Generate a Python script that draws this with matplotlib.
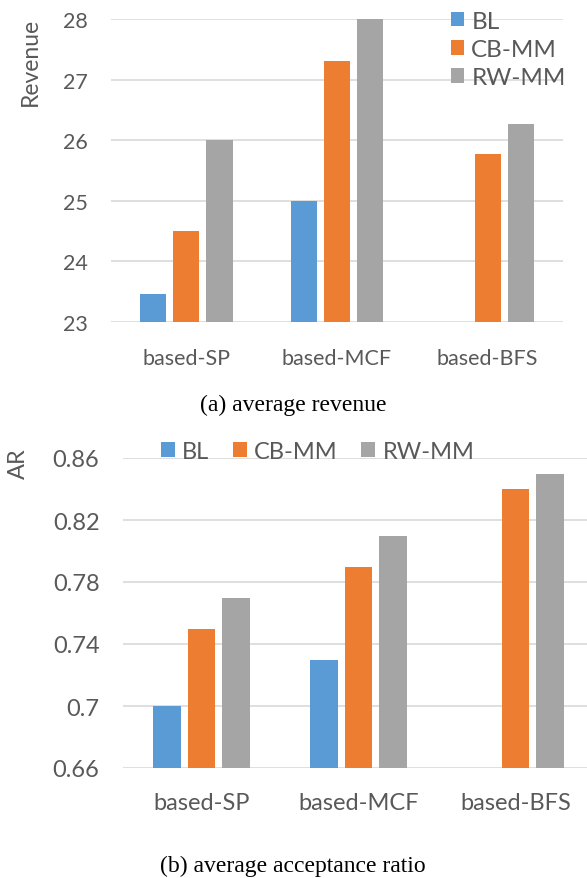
import numpy as np
import matplotlib
matplotlib.use("Agg")
import matplotlib.pyplot as plt

groups = ["based-SP", "based-MCF", "based-BFS"]
series = ["BL", "CB-MM", "RW-MM"]
colors = ["#5b9bd5", "#ed7d31", "#a5a5a5"]

# average revenue per scheme (BL has no result for based-BFS)
revenue_bl = [23.47, 25.0, np.nan]
revenue_cb = [24.5, 27.3, 25.77]
revenue_rw = [26.0, 28.0, 26.27]
revenue_ticks = [23, 24, 25, 26, 27, 28]

# average acceptance ratio
ar_bl = [0.70, 0.73, np.nan]
ar_cb = [0.75, 0.79, 0.84]
ar_rw = [0.77, 0.81, 0.85]
ar_ticks = [0.66, 0.70, 0.74, 0.78, 0.82, 0.86]
ar_ticklabels = ["0.66", "0.7", "0.74", "0.78", "0.82", "0.86"]

txt = "#595959"
plt.rcParams["font.family"] = ["Lato", "DejaVu Sans"]

W, H = 587, 879
fig = plt.figure(figsize=(W / 100, H / 100), dpi=100)


def px_axes(x0, y0, x1, y1):
    # pixel box (top-left origin) -> figure axes
    return fig.add_axes([x0 / W, 1 - y1 / H, (x1 - x0) / W, (y1 - y0) / H])


def draw(ax, data, ticks, ticklabels, ylab, fs, labfs):
    x = np.arange(len(groups))
    w = 0.173
    step = 0.22
    for i, (vals, c) in enumerate(zip(data, colors)):
        ax.bar(x + (i - 1) * step, vals, w, color=c, label=series[i], zorder=3)
    ax.set_xlim(-0.5, len(groups) - 0.5)
    ax.set_ylim(ticks[0], ticks[-1])
    ax.set_yticks(ticks)
    ax.set_yticklabels(ticklabels)
    ax.set_xticks(x)
    ax.set_xticklabels(groups)
    ax.tick_params(length=0, labelsize=fs, labelcolor=txt)
    ax.tick_params(axis="y", pad=17)
    ax.tick_params(axis="x", pad=19)
    for s in ax.spines.values():
        s.set_visible(False)
    ax.yaxis.grid(True, color="#d9d9d9", linewidth=1.2, zorder=0)
    ax.set_axisbelow(True)
    ax.set_ylabel(ylab, color=txt, fontsize=labfs)


ax1 = px_axes(111, 20, 563, 323)
draw(ax1, [revenue_bl, revenue_cb, revenue_rw], revenue_ticks,
     [str(t) for t in revenue_ticks], "Revenue", 15.5, 16.5)
ax1.yaxis.set_label_coords(-0.155, 0.86)
ax1.legend(loc="upper left", bbox_to_anchor=(0.73, 1.06), frameon=False,
           fontsize=17.5, labelcolor=txt, handlelength=0.55, handleheight=0.55,
           handletextpad=0.3, labelspacing=0.3, borderaxespad=0)

ax2 = px_axes(123, 459, 594, 769)
draw(ax2, [ar_bl, ar_cb, ar_rw], ar_ticks, ar_ticklabels, "AR", 17, 17)
ax2.tick_params(axis="x", pad=17)
ax2.yaxis.set_label_coords(-0.2, 0.985)
ax2.legend(loc="center left", bbox_to_anchor=(0.06, 1.02), ncol=3, frameon=False,
           fontsize=17, labelcolor=txt, handlelength=0.6, handleheight=0.6,
           handletextpad=0.3, columnspacing=1.0, borderaxespad=0)

fig.text(293 / W, 1 - 405 / H, "(a) average revenue", ha="center", va="center",
         fontsize=17, family="Liberation Serif", color="black")
fig.text(293 / W, 1 - 866 / H, "(b) average acceptance ratio", ha="center", va="center",
         fontsize=17, family="Liberation Serif", color="black")

fig.savefig("out.png", dpi=100, facecolor="white")
